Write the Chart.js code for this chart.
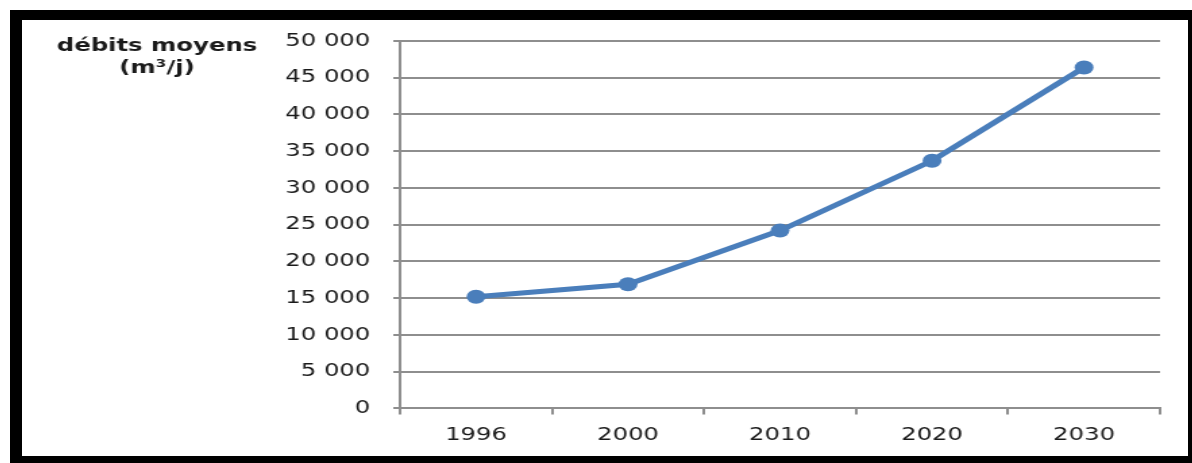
<!DOCTYPE html>
<html>
<head>
<meta charset="utf-8">
<script src="https://cdn.jsdelivr.net/npm/chart.js"></script>
<style>
  html, body { margin: 0; padding: 0; background: #fff; }
  #frame { position: absolute; left: 10px; top: 10px; right: 0; bottom: 0; background: #000; }
  #inner { position: absolute; left: 22px; top: 20px; width: 1166px; height: 436px; background: #fff; overflow: hidden; }
  /* the original picture is stretched sideways, so draw narrower and stretch */
  #wrap { position: absolute; left: 0; top: 0; width: 864px; height: 436px; transform: scaleX(1.35); transform-origin: 0 0; }
</style>
</head>
<body>
<div id="frame"></div>
<div id="inner"><div id="wrap"><canvas id="chart"></canvas></div></div>
<script>
// data
const years = ['1996', '2000', '2010', '2020', '2030'];
const debits = [15200, 16900, 24200, 33700, 46400];
const yMin = 0, yMax = 50000, yStep = 5000;
const titleLines = ['débits moyens', '(m³/j)'];

const FONT = 'DejaVu Sans';
const gridGrey = '#8e8e8e';

// thousands with a space: 45 000
const fmt = (v) => String(v).replace(/\B(?=(\d{3})+(?!\d))/g, ' ');

// draws the axis title block at the top left
const cornerTitle = {
    id: 'cornerTitle',
    afterDraw(chart) {
        const ctx = chart.ctx;
        ctx.save();
        ctx.font = `bold 18px "${FONT}"`;
        ctx.fillStyle = '#1a1a1a';
        ctx.textAlign = 'center';
        ctx.textBaseline = 'middle';
        ctx.fillText(titleLines[0], 100, 26);
        ctx.fillText(titleLines[1], 100, 48);
        ctx.restore();
    }
};

const ctx = document.getElementById('chart').getContext('2d');
new Chart(ctx, {
    type: 'line',
    data: {
        labels: years,
        datasets: [{
            data: debits,
            borderColor: '#4a7ebb',
            backgroundColor: '#4a7ebb',
            borderWidth: 5,
            pointRadius: 7,
            pointHoverRadius: 7,
            pointBorderWidth: 0,
            tension: 0
        }]
    },
    options: {
        responsive: true,
        maintainAspectRatio: false,
        animation: false,
        layout: { padding: { top: 21, right: 21, bottom: 0, left: 0 } },
        plugins: {
            legend: { display: false },
            tooltip: { enabled: false }
        },
        scales: {
            x: {
                offset: true,
                grid: {
                    offset: true,
                    drawOnChartArea: false,
                    drawTicks: true,
                    tickLength: 6,
                    color: gridGrey,
                    lineWidth: 2
                },
                border: { display: true, color: gridGrey, width: 2 },
                ticks: {
                    color: '#1a1a1a',
                    padding: 10,
                    font: { family: FONT, size: 18 }
                }
            },
            y: {
                min: yMin,
                max: yMax,
                afterFit: (scale) => {
                    scale.width = 280;
                    // the label overhang would push the plot down, drop it
                    scale.paddingTop = 0;
                    scale.paddingBottom = 0;
                },
                ticks: {
                    stepSize: yStep,
                    color: '#1a1a1a',
                    padding: 17,
                    font: { family: FONT, size: 18 },
                    callback: (v) => fmt(v)
                },
                grid: {
                    color: gridGrey,
                    lineWidth: 2,
                    drawTicks: true,
                    tickLength: 5
                },
                border: { display: true, color: gridGrey, width: 2 }
            }
        }
    },
    plugins: [cornerTitle]
});
</script>
</body>
</html>
